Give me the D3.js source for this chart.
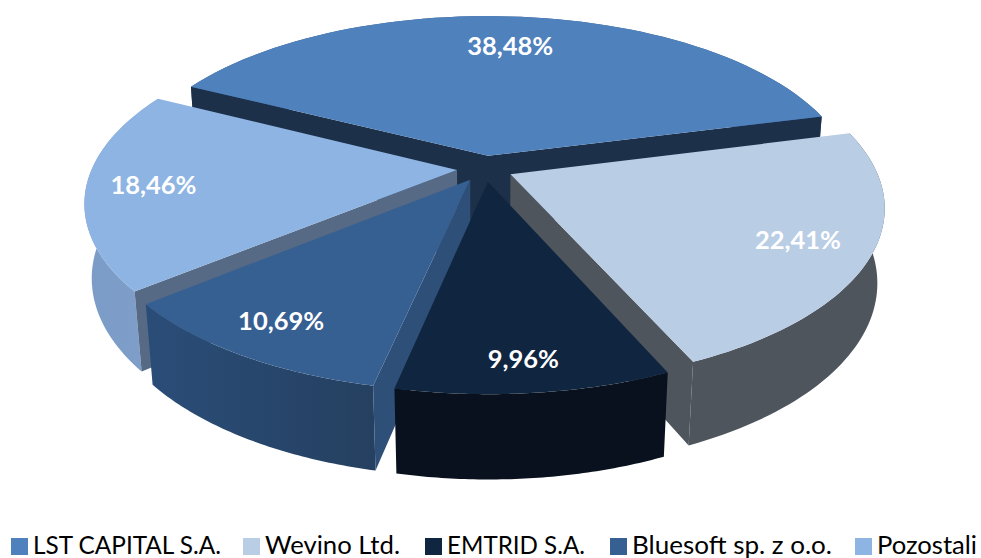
<!DOCTYPE html>
<html>
<head>
<meta charset="utf-8">
<script src="https://cdnjs.cloudflare.com/ajax/libs/d3/7.8.5/d3.min.js"></script>
<style>
    html, body { margin: 0; padding: 0; background: #fff; }
    svg { display: block; }
    text { font-family: Lato, "Open Sans", sans-serif; }
</style>
</head>
<body>
<svg id="chart" width="981" height="558"></svg>
<script>
let categories = ['LST CAPITAL S.A.', 'Wevino Ltd.', 'EMTRID S.A.', 'Bluesoft sp. z o.o.', 'Pozostali'];
let shares = [38.48, 22.41, 9.96, 10.69, 18.46];
let shareLabels = ['38,48%', '22,41%', '9,96%', '10,69%', '18,46%'];

let topColors = ['#4f81bd', '#b9cde5', '#10253f', '#376092', '#8eb4e3'];
let cutColors = ['#1d3049', '#4e555d', '#10253f', '#2d4f78', '#566a85'];
let wallStart = ['#3b608c', '#4e555d', '#08111d', '#2a4d78', '#7b9cc6'];
let wallEnd = ['#3b608c', '#4e555d', '#08111d', '#254060', '#7f9fca'];

// back to front, so nearer slices cover the cut faces behind them
let drawOrder = [0, 4, 1, 3, 2];
let labelFractions = [0.765, 0.82, 0.865, 0.83, 0.81];
let legendStarts = [11, 243, 425, 610, 855];
let legendWidths = [188, 135, 138, 200, 100];

let svg = d3.select('#chart');
let defs = svg.append('defs');

// ground plane to screen
let xScale = d3.scaleLinear().domain([-1, 1]).range([485 - 365, 485 + 365]);
let yScale = d3.scaleLinear().domain([-1, 1]).range([168.5 - 169, 168.5 + 169]);
let perspective = 0.18;   // things nearer the viewer get bigger
let sink = 0.018;         // the underside shrinks a little
let thickness = 0.44;     // pie height in y units
let explode = 0.077;

let pie = d3.pie()
    .sort(null)
    .startAngle(-63 * Math.PI / 180)
    .endAngle(297 * Math.PI / 180);
let arcs = pie(shares);

function project(angle, radius, low, mid) {
    let X = radius * Math.sin(angle) + explode * Math.sin(mid);
    let Y = -radius * Math.cos(angle) - explode * Math.cos(mid);
    let s = 1 / (1 - perspective * Y + sink * low);
    return [xScale(X * s), yScale((Y + thickness * low) * s)];
}

let line = d3.line();

function rim(d, low) {
    let mid = (d.startAngle + d.endAngle) / 2;
    let angles = d3.range(0, 61).map(i => d.startAngle + (d.endAngle - d.startAngle) * i / 60);
    return angles.map(a => project(a, 1, low, mid));
}

function cutFace(d, angle) {
    let mid = (d.startAngle + d.endAngle) / 2;
    return [
        project(angle, 0, 0, mid),
        project(angle, 1, 0, mid),
        project(angle, 1, 1, mid),
        project(angle, 0, 1, mid)
    ];
}

categories.forEach((name, i) => {
    let gradient = defs.append('linearGradient').attr('id', 'wall' + i);
    gradient.append('stop').attr('offset', 0).attr('stop-color', wallStart[i]);
    gradient.append('stop').attr('offset', 1).attr('stop-color', wallEnd[i]);
});

let slices = svg.selectAll('g.slice')
    .data(drawOrder)
    .join('g')
    .attr('class', 'slice');

slices.each(function (i) {
    let d = arcs[i];
    let g = d3.select(this);
    let mid = (d.startAngle + d.endAngle) / 2;

    // outer wall
    g.append('path')
        .attr('d', line(rim(d, 0).concat(rim(d, 1).reverse())) + 'Z')
        .attr('fill', `url(#wall${i})`);

    // only the cut faces turned towards the viewer, start face and end face wind opposite ways
    let startFace = cutFace(d, d.startAngle);
    let endFace = cutFace(d, d.endAngle);
    if (d3.polygonArea(startFace) > 0) {
        g.append('path').attr('d', line(startFace) + 'Z').attr('fill', cutColors[i]);
    }
    if (d3.polygonArea(endFace) < 0) {
        g.append('path').attr('d', line(endFace) + 'Z').attr('fill', cutColors[i]);
    }

    // top face
    let apex = project(mid, 0, 0, mid);
    g.append('path')
        .attr('d', line([apex].concat(rim(d, 0))) + 'Z')
        .attr('fill', topColors[i]);
});

// value labels
svg.selectAll('text.value')
    .data(arcs)
    .join('text')
    .attr('class', 'value')
    .attr('transform', (d, i) => {
        let mid = (d.startAngle + d.endAngle) / 2;
        let p = project(mid, labelFractions[i], 0, mid);
        return `translate(${p[0] - 4},${p[1]})`;
    })
    .attr('text-anchor', 'middle')
    .attr('dy', '0.35em')
    .attr('fill', '#fff')
    .attr('font-weight', 700)
    .attr('font-size', 25.5)
    .text((d, i) => shareLabels[i]);

// legend
let legendBaseline = 554;
categories.forEach((name, i) => {
    svg.append('rect')
        .attr('x', legendStarts[i])
        .attr('y', legendBaseline - 16)
        .attr('width', 17)
        .attr('height', 17)
        .attr('fill', topColors[i]);
    svg.append('text')
        .attr('x', legendStarts[i] + 22)
        .attr('y', legendBaseline)
        .attr('fill', '#000')
        .attr('font-size', 25)
        .attr('textLength', legendWidths[i])
        .attr('lengthAdjust', 'spacingAndGlyphs')
        .text(name);
});
</script>
</body>
</html>
